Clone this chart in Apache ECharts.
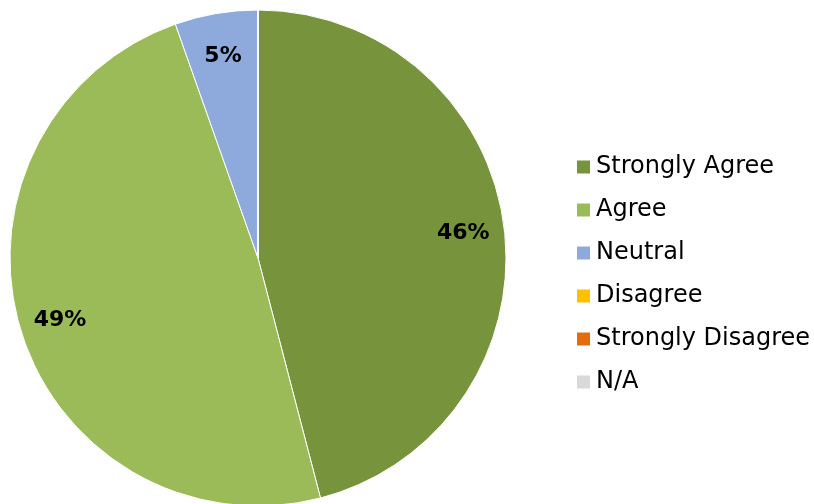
<!DOCTYPE html>
<html>
<head>
<meta charset="utf-8">
<script src="https://cdn.jsdelivr.net/npm/echarts@6/dist/echarts.min.js"></script>
<style>html,body{margin:0;padding:0;background:#fff;}#chart{width:814px;height:504px;}</style>
</head>
<body>
<div id="chart"></div>
<script>
const categories = ['Strongly Agree', 'Agree', 'Neutral', 'Disagree', 'Strongly Disagree', 'N/A'];
const counts = [17, 18, 2, 0, 0, 0];
const colors = ['#77933C', '#9BBB59', '#8EA9DB', '#FFC000', '#E46C0A', '#D9D9D9'];

const data = categories.map((name, i) => ({ name: name, value: counts[i], itemStyle: { color: colors[i] } }));

const chart = echarts.init(document.getElementById('chart'));
chart.setOption({
  animation: false,
  legend: {
    orient: 'vertical',
    left: 575,
    top: 155,
    padding: 0,
    itemWidth: 15,
    itemHeight: 15,
    itemGap: 19,
    icon: 'rect',
    data: categories,
    selectedMode: false,
    textStyle: { fontFamily: 'DejaVu Sans', fontSize: 24, color: '#000', lineHeight: 24, padding: [0, 0, 0, 0] }
  },
  series: [
    {
      type: 'pie',
      center: [258, 258],
      radius: [0, 248],
      startAngle: 90,
      clockwise: true,
      data: data,
      label: { show: false },
      labelLine: { show: false },
      itemStyle: { borderColor: '#fff', borderWidth: 1 },
      emphasis: { disabled: true },
      silent: true
    },
    {
      type: 'pie',
      center: [258, 258],
      radius: [160, 248],
      startAngle: 90,
      clockwise: true,
      percentPrecision: 0,
      data: categories.map((name, i) => ({ name: name, value: counts[i], itemStyle: { color: 'rgba(0,0,0,0)' } })),
      itemStyle: { borderWidth: 0 },
      label: {
        show: true,
        position: 'inside',
        fontFamily: 'DejaVu Sans',
        fontWeight: 'bold',
        fontSize: 22,
        color: '#000',
        offset: [0, 2],
        formatter: p => p.value > 0 ? p.percent + '%' : ''
      },
      labelLine: { show: false },
      emphasis: { disabled: true },
      silent: true
    }
  ]
});
</script>
</body>
</html>
